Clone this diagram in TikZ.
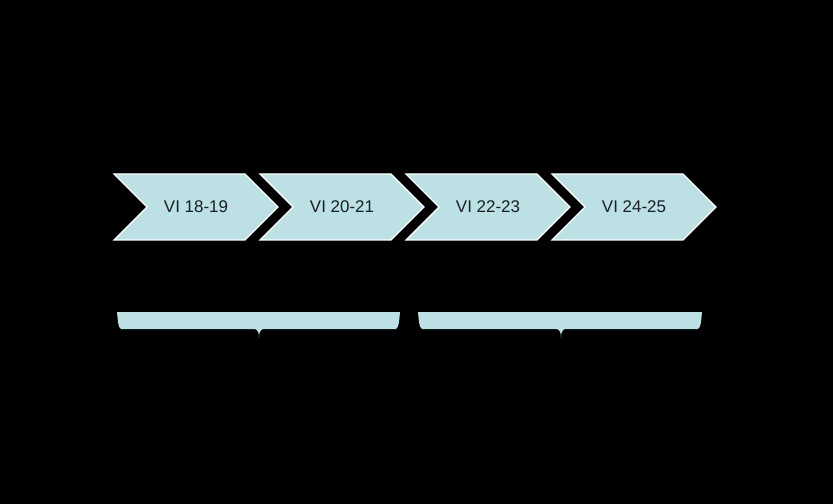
\documentclass[tikz,border=0pt]{standalone}
\usepackage{fontspec}
\setmainfont{Liberation Sans}
\usetikzlibrary{shapes.symbols}
\definecolor{chevblue}{RGB}{189,224,228}
\definecolor{chevtext}{RGB}{22,32,38}
\begin{document}
\begin{tikzpicture}[x=1bp,y=-1bp]
\tikzstyle{every node}+=[inner sep=0pt]
\tikzstyle{chevron}=[signal, signal to=east, signal from=west, signal pointer angle=90, fill=chevblue, draw=white, line width=1.2bp, minimum width=164bp, minimum height=66bp, text=chevtext, font=\fontsize{17}{20}\selectfont]
\tikzstyle{brace}=[fill=chevblue]
\fill [black] (0,0) rectangle (833,504);
\foreach \i/\t in {0/VI 18-19, 1/VI 20-21, 2/VI 22-23, 3/VI 24-25}
  \node [chevron] (y\i) at (196+146*\i,207) {\t};
\foreach \l/\m/\r in {117/259/400, 418/561/702}
  \fill [brace] (\l,312) -- (\r,312) .. controls (\r-1,322) and (\r-1,327) .. (\r-4,329) -- (\m+4,329) .. controls (\m+1,330) and (\m,333) .. (\m,338) .. controls (\m,333) and (\m-1,330) .. (\m-4,329) -- (\l+4,329) .. controls (\l+1,327) and (\l+1,322) .. (\l,312) -- cycle;
\end{tikzpicture}
\end{document}
